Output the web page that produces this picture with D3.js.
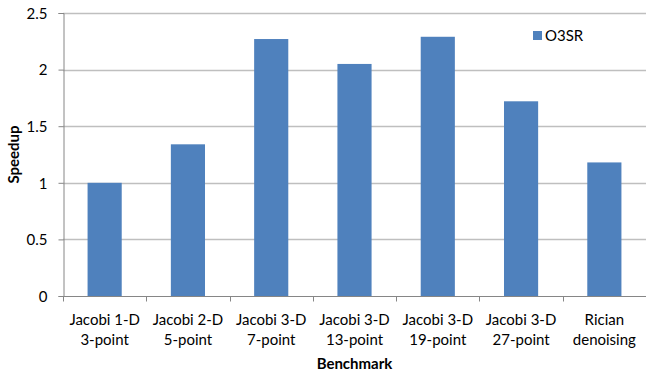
<!DOCTYPE html>
<html>
<head>
<meta charset="utf-8">
<script src="https://cdn.jsdelivr.net/npm/d3@7"></script>
<style>
    body { margin: 0; background: #fff; }
    text { font-family: Lato, "Open Sans", sans-serif; fill: #000; }
</style>
</head>
<body>
<script>
//Chart data
var benchmarks = [
    ["Jacobi 1-D", "3-point"],
    ["Jacobi 2-D", "5-point"],
    ["Jacobi 3-D", "7-point"],
    ["Jacobi 3-D", "13-point"],
    ["Jacobi 3-D", "19-point"],
    ["Jacobi 3-D", "27-point"],
    ["Rician", "denoising"]
];
var speedup = [1.0, 1.34, 2.27, 2.05, 2.29, 1.72, 1.18];
var yTicks = [0, 0.5, 1, 1.5, 2, 2.5];
var seriesName = "O3SR";

//Define margin
var margin = {left: 63, right: 0, top: 13, bottom: 76},
    width = 646 - margin.left - margin.right,
    height = 372 - margin.top - margin.bottom;

var svg = d3.select("body").append("svg")
    .attr("width", 646)
    .attr("height", 372);

var g = svg.append("g")
    .attr("transform", "translate(" + margin.left + "," + margin.top + ")");

var x = d3.scaleBand()
    .domain(d3.range(benchmarks.length))
    .range([0, width])
    .paddingInner(0.59)
    .paddingOuter(0.295);

var y = d3.scaleLinear()
    .domain([0, 2.5])
    .range([height, 0]);

//Gridlines
g.selectAll(".grid")
    .data(yTicks.slice(1))
    .enter().append("line")
    .attr("x1", 0)
    .attr("x2", width)
    .attr("y1", function(d) { return Math.round(y(d)) + 0.5; })
    .attr("y2", function(d) { return Math.round(y(d)) + 0.5; })
    .attr("stroke", "#bfbfbf")
    .attr("stroke-width", 1.5);

//Bars
g.selectAll(".bar")
    .data(speedup)
    .enter().append("rect")
    .attr("x", function(d, i) { return x(i); })
    .attr("y", function(d) { return y(d); })
    .attr("width", x.bandwidth())
    .attr("height", function(d) { return height - y(d); })
    .attr("fill", "#4f81bd");

//Y axis
var yAxis = g.append("g")
    .attr("transform", "translate(0.5,0)")
    .call(d3.axisLeft(y).tickValues(yTicks).tickSize(5)
        .tickPadding(11).tickFormat(d3.format("")));
yAxis.select(".domain").attr("stroke", "#868686");
yAxis.selectAll(".tick line").attr("stroke", "#868686");
yAxis.selectAll("text")
    .style("font-size", "15px")
    .attr("dy", "0.35em");

//X axis with ticks at category boundaries
var step = x.step();
var xAxis = g.append("g")
    .attr("transform", "translate(0," + (Math.round(height) + 0.5) + ")");
xAxis.append("line")
    .attr("x1", 0)
    .attr("x2", width)
    .attr("stroke", "#868686");
xAxis.selectAll(".xtick")
    .data(d3.range(benchmarks.length + 1))
    .enter().append("line")
    .attr("x1", function(d) { return Math.round(d * step) + 0.5; })
    .attr("x2", function(d) { return Math.round(d * step) + 0.5; })
    .attr("y1", 0)
    .attr("y2", 5)
    .attr("stroke", "#868686");

var labels = xAxis.selectAll(".xlabel")
    .data(benchmarks)
    .enter().append("text")
    .attr("text-anchor", "middle")
    .style("font-size", "15px")
    .attr("transform", function(d, i) {
        return "translate(" + (x(i) + x.bandwidth() / 2) + ",0)";
    });
labels.append("tspan")
    .attr("x", 0)
    .attr("y", 28)
    .text(function(d) { return d[0]; });
labels.append("tspan")
    .attr("x", 0)
    .attr("y", 48)
    .text(function(d) { return d[1]; });

//Axis titles
svg.append("text")
    .attr("x", margin.left + width / 2)
    .attr("y", 369)
    .attr("text-anchor", "middle")
    .style("font-size", "15px")
    .style("font-weight", "bold")
    .text("Benchmark");

svg.append("text")
    .attr("transform", "translate(19," + (margin.top + height / 2) + ") rotate(-90)")
    .attr("text-anchor", "middle")
    .style("font-size", "15px")
    .style("font-weight", "bold")
    .text("Speedup");

//Legend
var legend = svg.append("g")
    .attr("transform", "translate(533,31)");
legend.append("rect")
    .attr("width", 9)
    .attr("height", 9)
    .attr("fill", "#4f81bd");
legend.append("text")
    .attr("x", 12)
    .attr("y", 10)
    .style("font-size", "15px")
    .text(seriesName);
</script>
</body>
</html>
